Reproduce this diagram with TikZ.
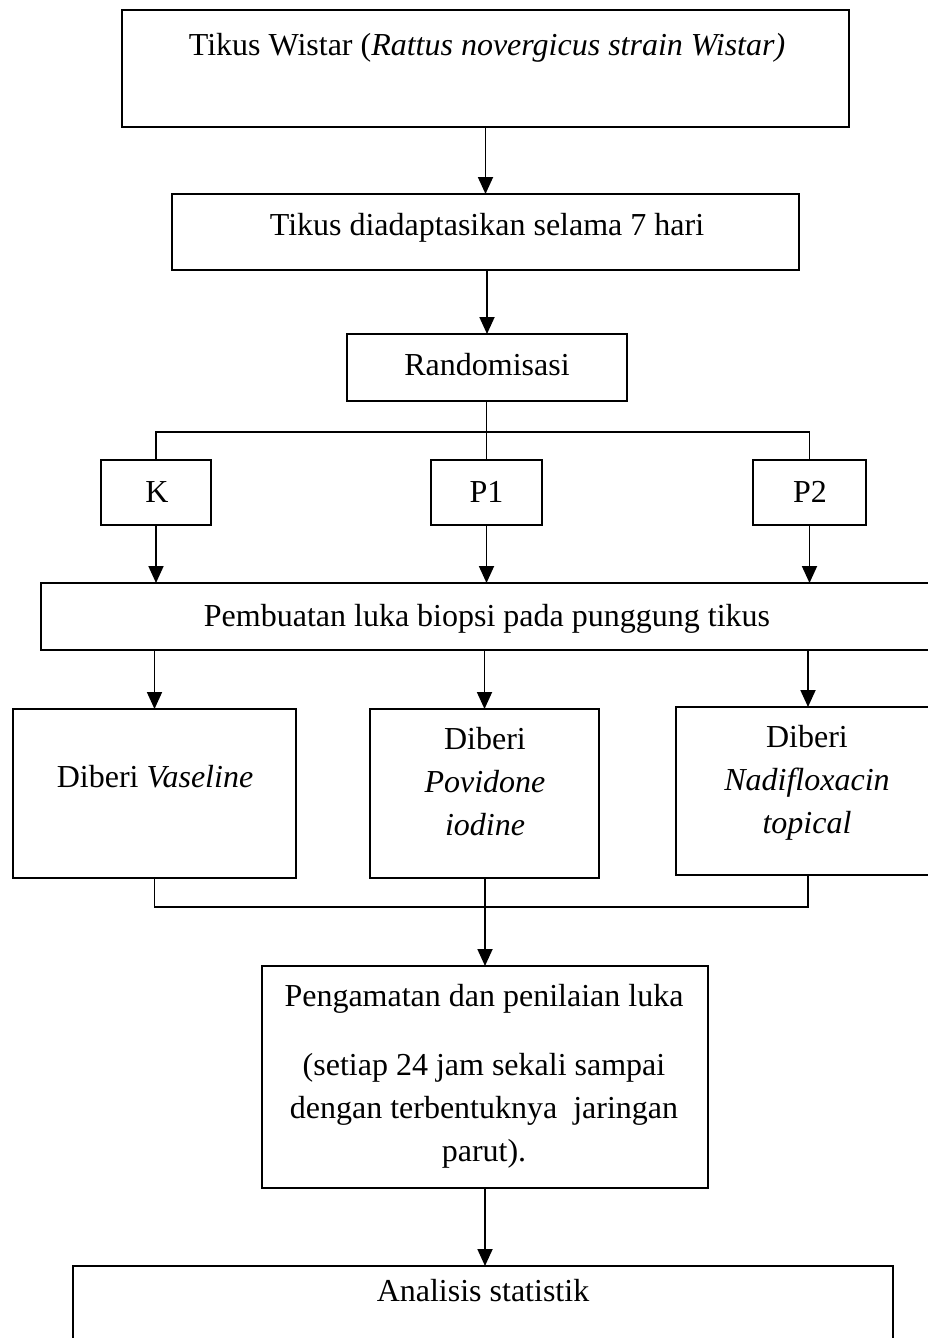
\documentclass[tikz,border=0pt]{standalone}
\usepackage{fontspec}
\setmainfont{Liberation Serif}
\usetikzlibrary{arrows.meta}
\tikzset{
  bx/.style={draw, line width=1.8pt, inner sep=0pt, outer sep=0pt, anchor=north west},
  tx/.style={font=\fontsize{32}{43}\selectfont, anchor=base, align=center, inner sep=0pt},
  ln/.style={line width=1.8pt},
  arr/.style={ln, -{Triangle[width=15pt,length=17pt]}}
}
\begin{document}
\begin{tikzpicture}[x=1pt,y=-1pt]
\useasboundingbox (0,0) rectangle (928,1338);
\clip (0,0) rectangle (928,1338);
% boxes
\node[bx, minimum width=727pt, minimum height=117pt] (b1) at (122,10) {};
\node[bx, minimum width=627pt, minimum height=76pt] (b2) at (172,194) {};
\node[bx, minimum width=280pt, minimum height=67pt] (b3) at (347,334) {};
\node[bx, minimum width=110pt, minimum height=65pt] (k) at (101,460) {};
\node[bx, minimum width=111pt, minimum height=65pt] (p1) at (431,460) {};
\node[bx, minimum width=113pt, minimum height=65pt] (p2) at (753,460) {};
\node[bx, minimum width=892pt, minimum height=67pt] (b4) at (41,583) {};
\node[bx, minimum width=283pt, minimum height=169pt] (v1) at (13,709) {};
\node[bx, minimum width=229pt, minimum height=169pt] (v2) at (370,709) {};
\node[bx, minimum width=264pt, minimum height=168pt] (v3) at (676,707) {};
\node[bx, minimum width=446pt, minimum height=222pt] (pg) at (262,966) {};
\node[bx, minimum width=820pt, minimum height=120pt] (an) at (73,1266) {};
% texts
\node[tx] (t1) at (487,56) {Tikus Wistar (\textit{Rattus novergicus strain Wistar)}};
\node[tx] (t2) at (487,235) {Tikus diadaptasikan selama 7 hari};
\node[tx] (t3) at (487,375) {Randomisasi};
\node[tx] (tk) at (157,502) {K};
\node[tx] (tp1) at (486.5,502) {P1};
\node[tx] (tp2) at (810,502) {P2};
\node[tx] (t4) at (487,626) {Pembuatan luka biopsi pada punggung tikus};
\node[tx] (tv1) at (155,787) {Diberi \textit{Vaseline}};
\node[tx] (tv2) at (485,835) {Diberi\\\textit{Povidone}\\\textit{iodine}};
\node[tx] (tv3) at (807,833) {Diberi\\\textit{Nadifloxacin}\\\textit{topical}};
\node[tx] (tpg) at (484,1161) {Pengamatan dan penilaian luka\\[26pt](setiap 24 jam sekali sampai\\dengan terbentuknya\ \ jaringan\\parut).};
\node[tx] (tan) at (483,1301) {Analisis statistik};
% connectors
\coordinate (hj) at (487,432);
\coordinate (mj) at (485,907);
\draw[arr] (b1.south -| b2.north) -- (b2.north);
\draw[arr] (b3.north |- b2.south) -- (b3.north);
\draw[ln] (p1.north |- b3.south) -- (p1.north);
\draw[ln] (k.north) |- (hj) -| (p2.north);
\draw[arr] (k.south) -- (k.south |- b4.north);
\draw[arr] (p1.south) -- (p1.south |- b4.north);
\draw[arr] (p2.south) -- (p2.south |- b4.north);
\draw[arr] (v1.north |- b4.south) -- (v1.north);
\draw[arr] (v2.north |- b4.south) -- (v2.north);
\draw[arr] (v3.north |- b4.south) -- (v3.north);
\draw[ln] (v1.south) |- (mj) -| (v3.south);
\draw[arr] (pg.north |- v2.south) -- (pg.north);
\draw[arr] (pg.south) -- (pg.south |- an.north);
\end{tikzpicture}
\end{document}
